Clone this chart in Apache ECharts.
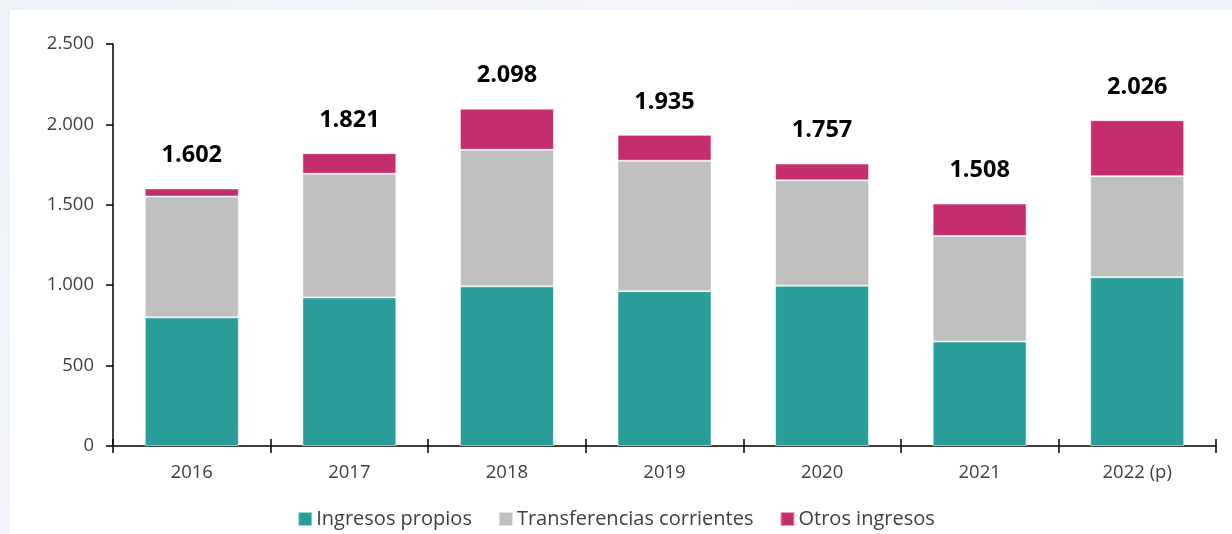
<!DOCTYPE html>
<html>
<head>
<meta charset="utf-8">
<script src="https://cdn.jsdelivr.net/npm/echarts@6/dist/echarts.min.js"></script>
<style>
  html, body { margin: 0; padding: 0; width: 1232px; height: 534px; overflow: hidden;
    background: linear-gradient(135deg, #eef2f8 0%, #f4f6fa 40%, #e9eef6 100%); }
  #chart { position: absolute; left: 0; top: 0; width: 1232px; height: 534px; }
  #panel { position: absolute; left: 10px; top: 10px; width: 1222px; height: 524px; background: #ffffff; }
</style>
</head>
<body>
<div id="panel"></div>
<div id="chart"></div>
<script>
const categories = ['2016', '2017', '2018', '2019', '2020', '2021', '2022 (p)'];
const ingresosPropios = [800, 924, 993, 963, 997, 650, 1050];
const transferencias = [751, 769, 849, 811, 655, 656, 628];
const otrosIngresos = [51, 128, 256, 161, 105, 202, 348];
const totals = [1602, 1821, 2098, 1935, 1757, 1508, 2026];
const yTicks = [0, 500, 1000, 1500, 2000, 2500];
const seriesNames = ['Ingresos propios', 'Transferencias corrientes', 'Otros ingresos'];

const fmt = v => String(v).replace(/\B(?=(\d{3})+(?!\d))/g, '.');
const FONT = '"Open Sans", "Noto Sans", sans-serif';

const chart = echarts.init(document.getElementById('chart'), null, { renderer: 'canvas' });
const barStyle = c => ({ color: c, borderColor: 'rgba(255,255,255,0.55)', borderWidth: 1 });

chart.setOption({
  backgroundColor: 'transparent',
  animation: false,
  grid: { left: 113, right: 16, top: 44, bottom: 88, containLabel: false },
  legend: {
    data: seriesNames,
    bottom: 0,
    left: 'center',
    icon: 'rect',
    itemWidth: 14,
    itemHeight: 14,
    itemGap: 26,
    textStyle: { fontFamily: FONT, fontSize: 20, color: '#404040', padding: [0, 0, 0, -1] }
  },
  xAxis: [{
    type: 'category',
    data: categories,
    boundaryGap: true,
    axisLine: { show: true, lineStyle: { color: '#000', width: 1.5 } },
    axisTick: { show: true, length: 7, alignWithLabel: false, lineStyle: { color: '#000', width: 1.5 } },
    axisLabel: { fontFamily: FONT, fontSize: 18.5, color: '#404040', margin: 17 }
  }, {
    type: 'category',
    data: categories,
    position: 'bottom',
    boundaryGap: true,
    axisLine: { show: false },
    axisTick: { show: true, inside: true, length: 7, lineStyle: { color: '#000', width: 1.5 } },
    axisLabel: { show: false }
  }],
  yAxis: [{
    type: 'value',
    min: yTicks[0],
    max: yTicks[yTicks.length - 1],
    interval: 500,
    splitLine: { show: false },
    axisLine: { show: true, lineStyle: { color: '#000', width: 1.5 } },
    axisTick: { show: true, length: 7, lineStyle: { color: '#000', width: 1.5 } },
    axisLabel: { fontFamily: FONT, fontSize: 18.5, color: '#404040', margin: 19, formatter: v => fmt(v) }
  }],
  series: [
    { name: seriesNames[0], type: 'bar', stack: 'total', data: ingresosPropios, barWidth: 94, itemStyle: barStyle('#289D9A') },
    { name: seriesNames[1], type: 'bar', stack: 'total', data: transferencias, barWidth: 94, itemStyle: barStyle('#BFBFBF') },
    { name: seriesNames[2], type: 'bar', stack: 'total', data: otrosIngresos, barWidth: 94, itemStyle: barStyle('#C42E6F'),
      label: {
        show: true, position: 'top', distance: 21,
        fontFamily: FONT, fontSize: 23.5, fontWeight: 'bold', color: '#000',
        formatter: p => fmt(totals[p.dataIndex])
      }
    }
  ]
});
</script>
</body>
</html>
